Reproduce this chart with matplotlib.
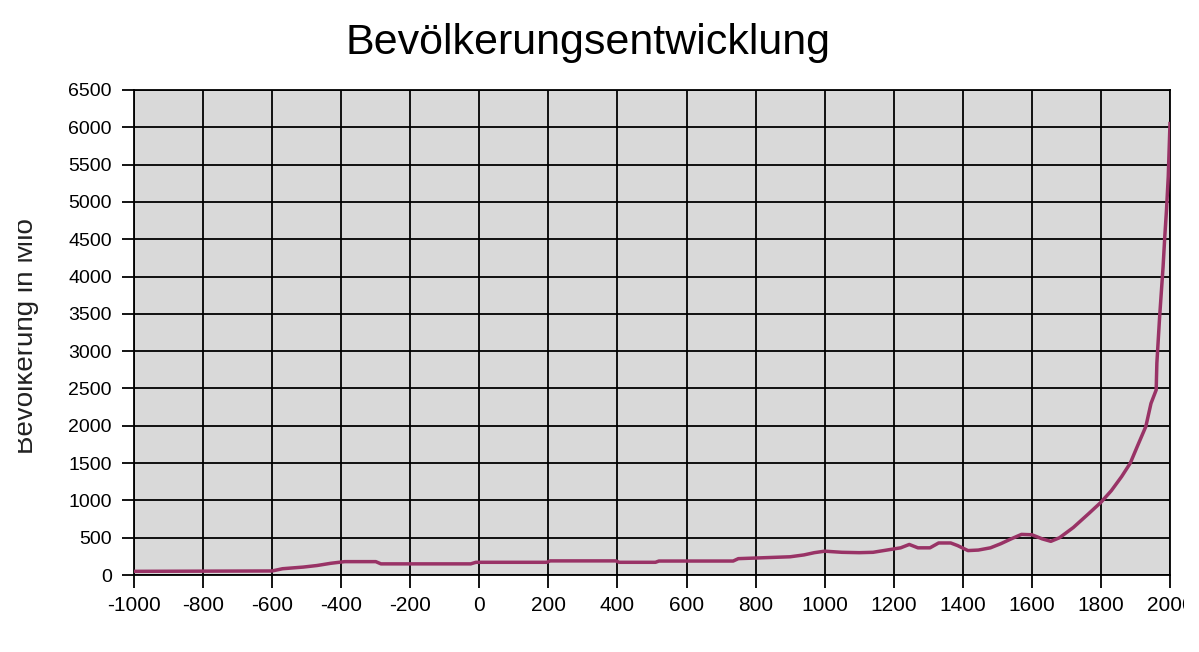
import matplotlib
matplotlib.use("Agg")
import matplotlib.pyplot as plt
from matplotlib.patches import Rectangle

plt.rcParams['font.family'] = ['Liberation Sans', 'DejaVu Sans']
plt.rcParams['axes.unicode_minus'] = False

# Weltbevoelkerung in Mio
jahre = [-1000, -600, -570, -510, -470, -430, -390, -300, -285, -25, -10,
         195, 205, 395, 405, 510, 520, 735, 750, 900, 940, 970, 1000,
         1050, 1100, 1140, 1180, 1220, 1245, 1270, 1305, 1330, 1365, 1385,
         1415, 1445, 1480, 1510, 1540, 1570, 1600, 1630, 1655, 1680, 1720,
         1765, 1800, 1830, 1860, 1885, 1905, 1930, 1945, 1960, 1962, 1970,
         1980, 1985, 1990, 1995, 2000]
bevoelkerung = [50, 55, 85, 107, 128, 158, 180, 180, 150, 150, 171,
                171, 190, 190, 171, 171, 188, 188, 220, 245, 270, 300, 320,
                305, 300, 305, 335, 365, 410, 365, 365, 430, 430, 395,
                328, 335, 365, 420, 485, 545, 540, 485, 452, 500, 637,
                825, 975, 1130, 1320, 1500, 1720, 1990, 2300, 2480, 2840, 3460,
                4130, 4540, 4900, 5340, 6050]

x_ticks = list(range(-1000, 2001, 200))
y_ticks = list(range(0, 6501, 500))

fig = plt.figure(figsize=(11.99, 6.52), dpi=100)
ax = fig.add_axes([0.1118, 0.118, 0.864, 0.744])
ax.set_facecolor("#d9d9d9")

ax.plot(jahre, bevoelkerung, color="#993366", linewidth=2.5, zorder=3)

ax.set_xlim(-1000, 2000)
ax.set_ylim(0, 6500)
ax.set_xticks(x_ticks)
ax.set_yticks(y_ticks)
ax.grid(True, color="black", linewidth=1.3)
ax.set_axisbelow(True)
for s in ax.spines.values():
    s.set_color("black")
    s.set_linewidth(1.3)
ax.tick_params(axis="both", length=9, width=1.3, color="black", labelsize=14)
ax.tick_params(axis="y", pad=7)
ax.tick_params(axis="x", pad=6, labelsize=15)

fig.text(0.49, 0.934, "Bevölkerungsentwicklung", fontsize=31,
         ha="center", va="center")
fig.text(0.022, 0.485, "Bevölkerung in Mio", fontsize=20, rotation=90,
         ha="center", va="center", color="#222222")
# im Original sind Achsentitel links und die Beschriftung 2000 rechts abgeschnitten
fig.patches.append(Rectangle((0, 0), 18 / 1199, 1, transform=fig.transFigure,
                             facecolor="white", edgecolor="none", zorder=10))
fig.patches.append(Rectangle((1184 / 1199, 0), 15 / 1199, 1,
                             transform=fig.transFigure,
                             facecolor="white", edgecolor="none", zorder=10))

fig.savefig("out.png", dpi=100)
